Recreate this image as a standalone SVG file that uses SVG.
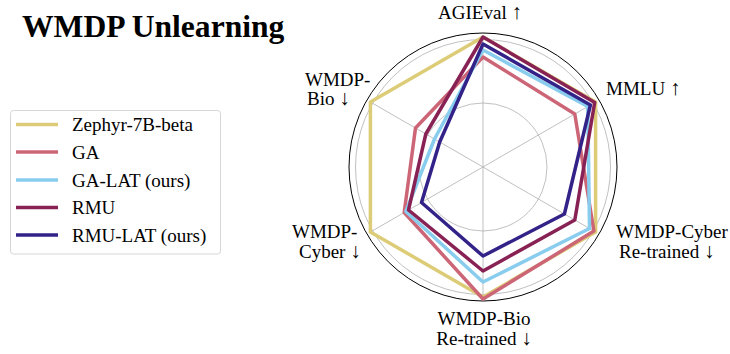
<svg xmlns="http://www.w3.org/2000/svg" width="730" height="354" viewBox="0 0 730 354">
<style>
.t{font-family:"Liberation Serif","Times New Roman",serif;font-size:19px;fill:#000}
.ar{font-size:21px}
.grid{fill:none;stroke:#b0b0b0;stroke-width:0.8}
.poly{fill:none;stroke-width:3.5;stroke-linejoin:round}
.leg{stroke-width:3.5}
</style>
<rect width="730" height="354" fill="#fff"/>
<text x="22" y="37" font-family="'Liberation Serif','Times New Roman',serif" font-size="31.6" font-weight="bold">WMDP Unlearning</text>
<g id="legend">
<rect x="10.5" y="110.5" width="210" height="143.5" rx="3" fill="#fff" stroke="#d6d6d6" stroke-width="1"/>
<line class="leg" x1="16" y1="124.5" x2="58" y2="124.5" stroke="#DDCC77"/>
<text class="t" x="72" y="131">Zephyr-7B-beta</text>
<line class="leg" x1="16" y1="152" x2="58" y2="152" stroke="#CC6677"/>
<text class="t" x="72" y="158.5">GA</text>
<line class="leg" x1="16" y1="180" x2="58" y2="180" stroke="#88CCEE"/>
<text class="t" x="72" y="186.5">GA-LAT (ours)</text>
<line class="leg" x1="16" y1="207.5" x2="58" y2="207.5" stroke="#882255"/>
<text class="t" x="72" y="214">RMU</text>
<line class="leg" x1="16" y1="235" x2="58" y2="235" stroke="#332288"/>
<text class="t" x="72" y="241.5">RMU-LAT (ours)</text>
</g>
<g id="grid">
<circle class="grid" cx="483" cy="167" r="64"/>
<circle class="grid" cx="483" cy="167" r="127.5"/>
<line class="grid" x1="483" y1="167" x2="483" y2="39.5"/>
<line class="grid" x1="483" y1="167" x2="593.4" y2="103.25"/>
<line class="grid" x1="483" y1="167" x2="593.4" y2="230.75"/>
<line class="grid" x1="483" y1="167" x2="483" y2="294.5"/>
<line class="grid" x1="483" y1="167" x2="372.6" y2="230.75"/>
<line class="grid" x1="483" y1="167" x2="372.6" y2="103.25"/>
<circle cx="483" cy="167" r="134" fill="none" stroke="#000" stroke-width="1"/>
</g>
<g id="connectors">
<polygon id="zephyr" class="poly" stroke="#DDCC77" points="483,37 595.6,102 595.6,232 483,297 370.4,232 370.4,102"/>
<polygon id="ga" class="poly" stroke="#CC6677" points="483,57 574.8,114 593.9,231 483,299 404.2,212.5 415.5,128"/>
<polygon id="galat" class="poly" stroke="#88CCEE" points="483,50 587.8,106.5 589.5,228.5 483,282 405.9,211.5 434.5,139"/>
<polygon id="rmu" class="poly" stroke="#882255" points="483,37 594.7,102.5 574.8,220 483,271 408.5,210 425.8,134"/>
<polygon id="rmulat" class="poly" stroke="#332288" points="483,44 590.4,105 564.4,214 483,256 421.5,202.5 439.7,142"/>
</g>
<g id="axis-agieval"><text class="t" x="480" y="19" text-anchor="middle">AGIEval <tspan class="ar">↑</tspan></text></g>
<g id="axis-mmlu"><text class="t" x="606" y="95">MMLU <tspan class="ar">↑</tspan></text></g>
<g id="axis-cyber-rt"><text class="t" x="616" y="238">WMDP-Cyber</text><text class="t" x="619" y="258">Re-trained <tspan class="ar">↓</tspan></text></g>
<g id="axis-bio-rt"><text class="t" x="484" y="325" text-anchor="middle">WMDP-Bio</text><text class="t" x="484" y="345" text-anchor="middle">Re-trained <tspan class="ar">↓</tspan></text></g>
<g id="axis-cyber"><text class="t" x="292" y="238">WMDP-</text><text class="t" x="299" y="258">Cyber <tspan class="ar">↓</tspan></text></g>
<g id="axis-bio"><text class="t" x="305" y="86">WMDP-</text><text class="t" x="307" y="105">Bio <tspan class="ar">↓</tspan></text></g>
</svg>
